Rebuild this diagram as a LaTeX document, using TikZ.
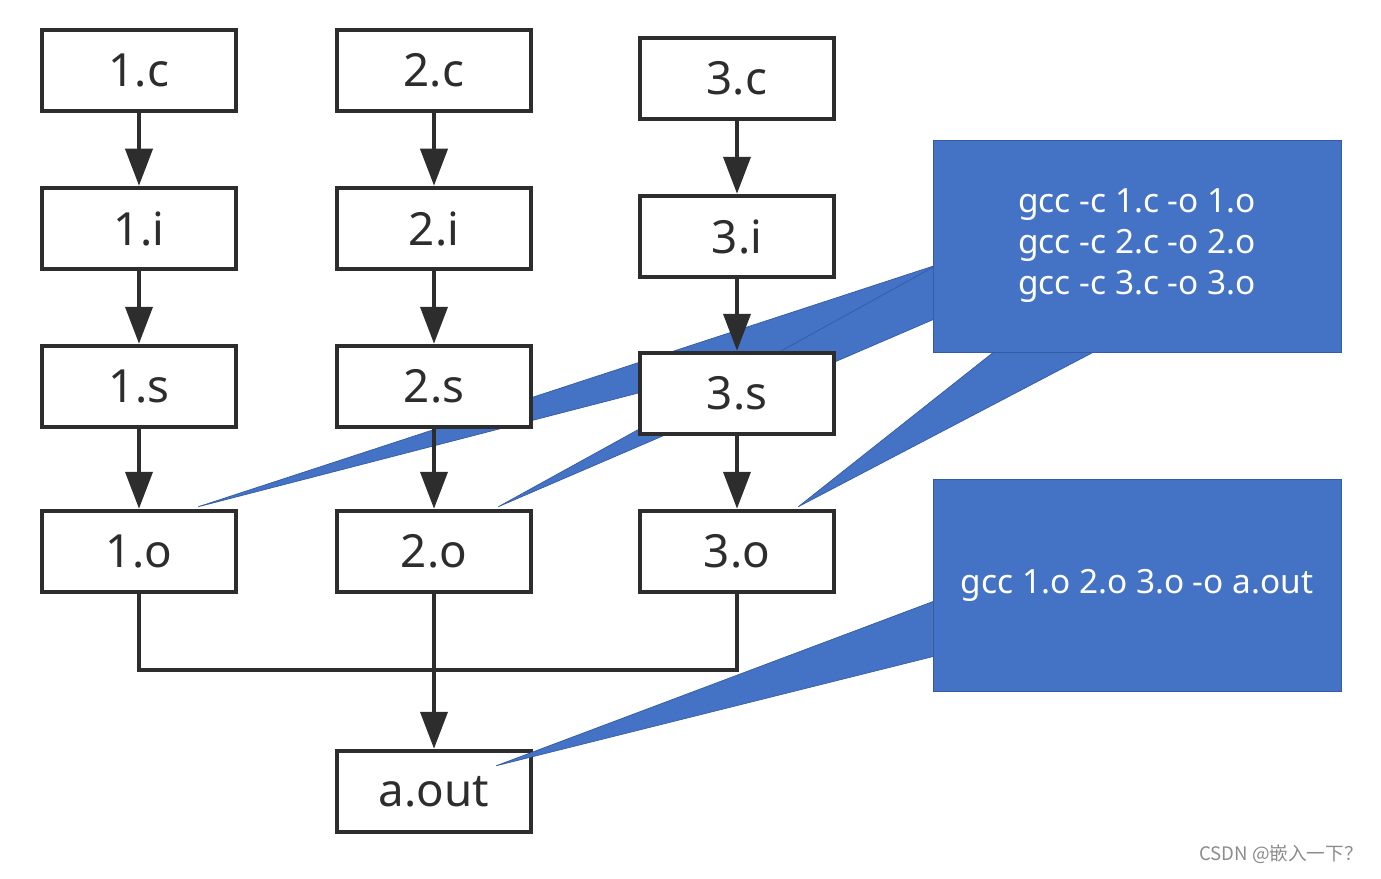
\documentclass[tikz,border=0pt]{standalone}
\usepackage{fontspec}
\setmainfont{Noto Sans}
\newfontfamily\cjkfont{Noto Sans CJK SC}
\usepackage{tikz}
\usetikzlibrary{arrows.meta,positioning,backgrounds}
\definecolor{cfdark}{RGB}{45,45,45}
\definecolor{cfblue}{RGB}{68,114,196}
\definecolor{cfedge}{RGB}{52,92,165}
\definecolor{cfgray}{RGB}{140,140,140}
\tikzset{
  cfbox/.style={draw=cfdark, line width=.09cm, fill=white, text=cfdark, minimum width=3.88cm, minimum height=1.62cm, inner sep=0pt, font=\fontsize{26}{30}\selectfont},
  cfcall/.style={fill=cfblue, draw=cfedge, line width=.4pt, text=white, align=center, minimum width=8.16cm, minimum height=4.24cm, font=\fontsize{19}{23.3}\selectfont},
  cftail/.style={fill=cfblue, draw=cfedge, line width=.4pt},
  cfarr/.style={-{Triangle[length=7.4mm,width=5.4mm]}, line width=.08cm, draw=cfdark},
  cfline/.style={line width=.08cm, draw=cfdark}
}

\begin{document}
\begin{tikzpicture}[node distance=1.45cm and 1.93cm]
  \path[use as bounding box] (0,0) rectangle (27.62,-17.58);
  \node[cfbox] (c1) at (2.78,-1.41) {1.c};
  \node[cfbox, below=of c1] (i1) {1.i};
  \node[cfbox, below=of i1] (s1) {1.s};
  \node[cfbox, below=1.59cm of s1] (o1) {1.o};
  \node[cfbox, right=of c1] (c2) {2.c};
  \node[cfbox, right=of i1] (i2) {2.i};
  \node[cfbox, right=of s1] (s2) {2.s};
  \node[cfbox, right=of o1] (o2) {2.o};
  \node[cfbox, right=2.09cm of o2] (o3) {3.o};
  \node[cfbox, above=of o3] (s3) {3.s};
  \node[cfbox, above=1.43cm of s3] (i3) {3.i};
  \node[cfbox, above=of i3] (c3) {3.c};
  \node[cfbox, below=3.09cm of o2] (aout) {a.out};
  \draw[cfarr] (c1) -- (i1);
  \draw[cfarr] (i1) -- (s1);
  \draw[cfarr] (s1) -- (o1);
  \draw[cfarr] (c2) -- (i2);
  \draw[cfarr] (i2) -- (s2);
  \draw[cfarr] (s2) -- (o2);
  \draw[cfarr] (c3) -- (i3);
  \draw[cfarr] (i3) -- (s3);
  \draw[cfarr] (s3) -- (o3);
  \coordinate[below=1.52cm of o2.south] (merge);
  \draw[cfline] (o1.south) |- (merge) -| (o3.south);
  \draw[cfarr] (o2) -- (aout);
  \node[cfcall] (cmd1) at (22.74,-4.92) {gcc -c 1.c -o 1.o\\gcc -c 2.c -o 2.o\\gcc -c 3.c -o 3.o};
  \node[cfcall] (cmd2) at (22.74,-11.70) {gcc 1.o 2.o 3.o -o a.out};
  \begin{pgfonlayer}{background}
    \path[cftail] ([shift={(-.8,.04)}]o1.north east) -- ([shift={(.1,-2.5)}]cmd1.north west) -- ([shift={(.1,-3.52)}]cmd1.north west) -- cycle;
    \path[cftail] ([shift={(-.7,.04)}]o2.north east) -- ([shift={(.1,-2.5)}]cmd1.north west) -- ([shift={(.1,-3.56)}]cmd1.north west) -- cycle;
    \path[cftail] ([shift={(-.76,.04)}]o3.north east) -- ([shift={(1.34,.1)}]cmd1.south west) -- ([shift={(3.4,.1)}]cmd1.south west) -- cycle;
  \end{pgfonlayer}
  \path[cftail] ([shift={(-.74,-.34)}]aout.north east) -- ([yshift=-2.46cm]cmd2.north west) -- ([yshift=-3.56cm]cmd2.north west) -- cycle;
  \node[font=\cjkfont\fontsize{10.6}{12}\selectfont, text=cfgray, anchor=south east] (mark) at (27.38,-17.4) {CSDN @嵌入一下？};
\end{tikzpicture}
\end{document}
